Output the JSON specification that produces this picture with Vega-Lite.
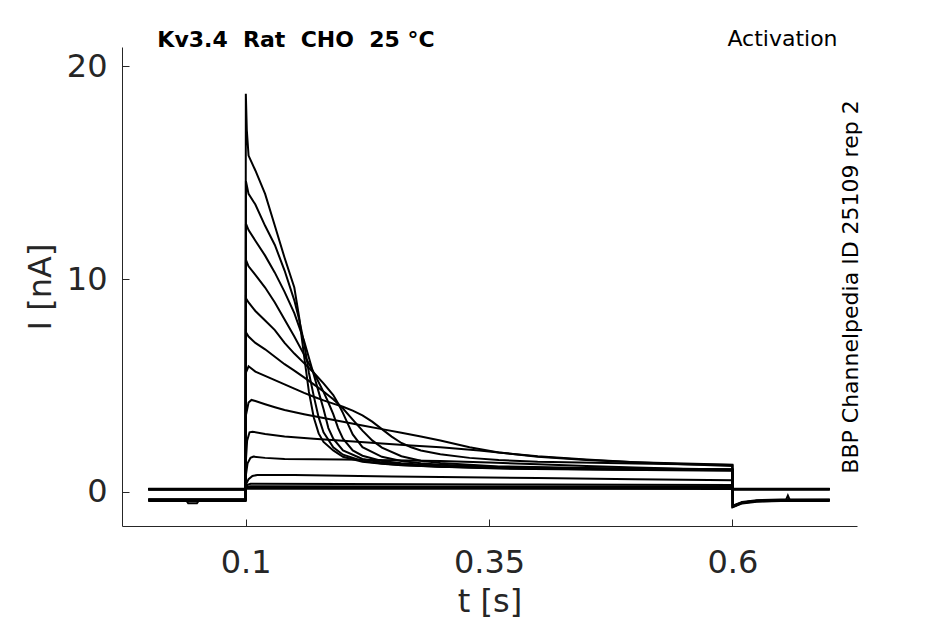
{
  "$schema": "https://vega.github.io/schema/vega-lite/v6.json",
  "description": "Kv3.4 activation current traces",
  "autosize": "none",
  "width": 735,
  "height": 479,
  "padding": {"left": 122, "top": 47, "right": 88, "bottom": 98},
  "config": {
    "font": "DejaVu Sans",
    "view": {"stroke": null},
    "axis": {
      "grid": false,
      "domainColor": "#262626",
      "tickColor": "#262626",
      "labelColor": "#262626",
      "titleColor": "#262626",
      "labelFontSize": 32,
      "titleFontSize": 32,
      "titleFontWeight": "normal",
      "labelFlush": false
    }
  },
  "layer": [
    {
      "data": {
        "values": [
          {"trace": 1, "t": 0, "I": -0.36}, {"trace": 1, "t": 0.0999, "I": -0.36}, {"trace": 1, "t": 0.1002, "I": 18.7}, {"trace": 1, "t": 0.1012, "I": 17.0}, {"trace": 1, "t": 0.103, "I": 15.8}, {"trace": 1, "t": 0.11, "I": 15.1}, {"trace": 1, "t": 0.12, "I": 14.0}, {"trace": 1, "t": 0.13, "I": 12.5}, {"trace": 1, "t": 0.14, "I": 11.0}, {"trace": 1, "t": 0.15, "I": 9.6}, {"trace": 1, "t": 0.155, "I": 8.2}, {"trace": 1, "t": 0.16, "I": 6.4}, {"trace": 1, "t": 0.165, "I": 4.7}, {"trace": 1, "t": 0.17, "I": 3.5}, {"trace": 1, "t": 0.175, "I": 2.75}, {"trace": 1, "t": 0.18, "I": 2.35}, {"trace": 1, "t": 0.19, "I": 1.95}, {"trace": 1, "t": 0.2, "I": 1.65}, {"trace": 1, "t": 0.22, "I": 1.42}, {"trace": 1, "t": 0.24, "I": 1.32}, {"trace": 1, "t": 0.26, "I": 1.25}, {"trace": 1, "t": 0.3, "I": 1.18}, {"trace": 1, "t": 0.36, "I": 1.1}, {"trace": 1, "t": 0.45, "I": 1.05}, {"trace": 1, "t": 0.6, "I": 1.0}, {"trace": 1, "t": 0.6003, "I": -0.69}, {"trace": 1, "t": 0.61, "I": -0.5}, {"trace": 1, "t": 0.625, "I": -0.42}, {"trace": 1, "t": 0.65, "I": -0.39}, {"trace": 1, "t": 0.655, "I": -0.39}, {"trace": 1, "t": 0.657, "I": -0.17}, {"trace": 1, "t": 0.659, "I": -0.39}, {"trace": 1, "t": 0.7, "I": -0.38},

          {"trace": 2, "t": 0, "I": -0.4}, {"trace": 2, "t": 0.039, "I": -0.4}, {"trace": 2, "t": 0.041, "I": -0.53}, {"trace": 2, "t": 0.05, "I": -0.53}, {"trace": 2, "t": 0.052, "I": -0.4}, {"trace": 2, "t": 0.0999, "I": -0.4}, {"trace": 2, "t": 0.1003, "I": 14.6}, {"trace": 2, "t": 0.103, "I": 14.0}, {"trace": 2, "t": 0.11, "I": 13.5}, {"trace": 2, "t": 0.12, "I": 12.5}, {"trace": 2, "t": 0.13, "I": 11.6}, {"trace": 2, "t": 0.14, "I": 10.4}, {"trace": 2, "t": 0.15, "I": 9.0}, {"trace": 2, "t": 0.155, "I": 8.1}, {"trace": 2, "t": 0.16, "I": 7.0}, {"trace": 2, "t": 0.165, "I": 5.6}, {"trace": 2, "t": 0.17, "I": 4.5}, {"trace": 2, "t": 0.175, "I": 3.5}, {"trace": 2, "t": 0.18, "I": 2.8}, {"trace": 2, "t": 0.19, "I": 2.1}, {"trace": 2, "t": 0.2, "I": 1.75}, {"trace": 2, "t": 0.22, "I": 1.45}, {"trace": 2, "t": 0.24, "I": 1.33}, {"trace": 2, "t": 0.26, "I": 1.26}, {"trace": 2, "t": 0.3, "I": 1.18}, {"trace": 2, "t": 0.36, "I": 1.12}, {"trace": 2, "t": 0.45, "I": 1.07}, {"trace": 2, "t": 0.6, "I": 1.02}, {"trace": 2, "t": 0.6003, "I": -0.7}, {"trace": 2, "t": 0.61, "I": -0.52}, {"trace": 2, "t": 0.625, "I": -0.44}, {"trace": 2, "t": 0.65, "I": -0.41}, {"trace": 2, "t": 0.7, "I": -0.4},

          {"trace": 3, "t": 0, "I": -0.38}, {"trace": 3, "t": 0.0999, "I": -0.38}, {"trace": 3, "t": 0.1003, "I": 12.6}, {"trace": 3, "t": 0.103, "I": 12.3}, {"trace": 3, "t": 0.11, "I": 11.8}, {"trace": 3, "t": 0.12, "I": 11.1}, {"trace": 3, "t": 0.13, "I": 10.3}, {"trace": 3, "t": 0.14, "I": 9.4}, {"trace": 3, "t": 0.15, "I": 8.4}, {"trace": 3, "t": 0.16, "I": 7.1}, {"trace": 3, "t": 0.165, "I": 6.3}, {"trace": 3, "t": 0.17, "I": 5.5}, {"trace": 3, "t": 0.175, "I": 4.7}, {"trace": 3, "t": 0.18, "I": 3.9}, {"trace": 3, "t": 0.185, "I": 3.0}, {"trace": 3, "t": 0.19, "I": 2.5}, {"trace": 3, "t": 0.2, "I": 1.95}, {"trace": 3, "t": 0.22, "I": 1.55}, {"trace": 3, "t": 0.24, "I": 1.38}, {"trace": 3, "t": 0.26, "I": 1.3}, {"trace": 3, "t": 0.3, "I": 1.2}, {"trace": 3, "t": 0.36, "I": 1.13}, {"trace": 3, "t": 0.45, "I": 1.08}, {"trace": 3, "t": 0.6, "I": 1.03}, {"trace": 3, "t": 0.6003, "I": -0.66}, {"trace": 3, "t": 0.61, "I": -0.49}, {"trace": 3, "t": 0.625, "I": -0.41}, {"trace": 3, "t": 0.65, "I": -0.39}, {"trace": 3, "t": 0.7, "I": -0.38},

          {"trace": 4, "t": 0, "I": -0.34}, {"trace": 4, "t": 0.0999, "I": -0.34}, {"trace": 4, "t": 0.1003, "I": 10.9}, {"trace": 4, "t": 0.103, "I": 10.6}, {"trace": 4, "t": 0.11, "I": 10.2}, {"trace": 4, "t": 0.12, "I": 9.6}, {"trace": 4, "t": 0.13, "I": 8.9}, {"trace": 4, "t": 0.14, "I": 8.1}, {"trace": 4, "t": 0.15, "I": 7.3}, {"trace": 4, "t": 0.16, "I": 6.45}, {"trace": 4, "t": 0.17, "I": 5.6}, {"trace": 4, "t": 0.175, "I": 5.15}, {"trace": 4, "t": 0.18, "I": 4.7}, {"trace": 4, "t": 0.185, "I": 4.2}, {"trace": 4, "t": 0.19, "I": 3.65}, {"trace": 4, "t": 0.195, "I": 3.0}, {"trace": 4, "t": 0.2, "I": 2.5}, {"trace": 4, "t": 0.21, "I": 1.95}, {"trace": 4, "t": 0.22, "I": 1.7}, {"trace": 4, "t": 0.24, "I": 1.45}, {"trace": 4, "t": 0.26, "I": 1.35}, {"trace": 4, "t": 0.3, "I": 1.22}, {"trace": 4, "t": 0.36, "I": 1.14}, {"trace": 4, "t": 0.45, "I": 1.08}, {"trace": 4, "t": 0.6, "I": 1.04}, {"trace": 4, "t": 0.6003, "I": -0.64}, {"trace": 4, "t": 0.61, "I": -0.47}, {"trace": 4, "t": 0.625, "I": -0.39}, {"trace": 4, "t": 0.65, "I": -0.36}, {"trace": 4, "t": 0.7, "I": -0.35},

          {"trace": 5, "t": 0, "I": -0.42}, {"trace": 5, "t": 0.0999, "I": -0.42}, {"trace": 5, "t": 0.1003, "I": 9.1}, {"trace": 5, "t": 0.103, "I": 8.9}, {"trace": 5, "t": 0.11, "I": 8.5}, {"trace": 5, "t": 0.12, "I": 8.05}, {"trace": 5, "t": 0.13, "I": 7.6}, {"trace": 5, "t": 0.14, "I": 7.0}, {"trace": 5, "t": 0.15, "I": 6.5}, {"trace": 5, "t": 0.16, "I": 6.05}, {"trace": 5, "t": 0.17, "I": 5.6}, {"trace": 5, "t": 0.18, "I": 5.1}, {"trace": 5, "t": 0.19, "I": 4.55}, {"trace": 5, "t": 0.195, "I": 4.15}, {"trace": 5, "t": 0.2, "I": 3.7}, {"trace": 5, "t": 0.205, "I": 3.2}, {"trace": 5, "t": 0.21, "I": 2.7}, {"trace": 5, "t": 0.22, "I": 2.1}, {"trace": 5, "t": 0.24, "I": 1.65}, {"trace": 5, "t": 0.26, "I": 1.45}, {"trace": 5, "t": 0.28, "I": 1.35}, {"trace": 5, "t": 0.3, "I": 1.28}, {"trace": 5, "t": 0.36, "I": 1.17}, {"trace": 5, "t": 0.45, "I": 1.1}, {"trace": 5, "t": 0.6, "I": 1.05}, {"trace": 5, "t": 0.6003, "I": -0.72}, {"trace": 5, "t": 0.61, "I": -0.54}, {"trace": 5, "t": 0.625, "I": -0.46}, {"trace": 5, "t": 0.65, "I": -0.43}, {"trace": 5, "t": 0.7, "I": -0.42},

          {"trace": 6, "t": 0, "I": -0.37}, {"trace": 6, "t": 0.0999, "I": -0.37}, {"trace": 6, "t": 0.1003, "I": 7.5}, {"trace": 6, "t": 0.103, "I": 7.3}, {"trace": 6, "t": 0.11, "I": 7.0}, {"trace": 6, "t": 0.12, "I": 6.7}, {"trace": 6, "t": 0.13, "I": 6.35}, {"trace": 6, "t": 0.14, "I": 6.0}, {"trace": 6, "t": 0.15, "I": 5.7}, {"trace": 6, "t": 0.16, "I": 5.38}, {"trace": 6, "t": 0.17, "I": 5.05}, {"trace": 6, "t": 0.18, "I": 4.72}, {"trace": 6, "t": 0.19, "I": 4.35}, {"trace": 6, "t": 0.2, "I": 3.92}, {"trace": 6, "t": 0.21, "I": 3.4}, {"trace": 6, "t": 0.22, "I": 2.88}, {"trace": 6, "t": 0.23, "I": 2.42}, {"trace": 6, "t": 0.24, "I": 2.08}, {"trace": 6, "t": 0.26, "I": 1.68}, {"trace": 6, "t": 0.28, "I": 1.47}, {"trace": 6, "t": 0.3, "I": 1.36}, {"trace": 6, "t": 0.36, "I": 1.2}, {"trace": 6, "t": 0.45, "I": 1.12}, {"trace": 6, "t": 0.6, "I": 1.06}, {"trace": 6, "t": 0.6003, "I": -0.68}, {"trace": 6, "t": 0.61, "I": -0.5}, {"trace": 6, "t": 0.625, "I": -0.41}, {"trace": 6, "t": 0.65, "I": -0.38}, {"trace": 6, "t": 0.7, "I": -0.37},

          {"trace": 7, "t": 0, "I": 0.13}, {"trace": 7, "t": 0.0999, "I": 0.13}, {"trace": 7, "t": 0.1003, "I": 5.6}, {"trace": 7, "t": 0.103, "I": 5.9}, {"trace": 7, "t": 0.11, "I": 5.65}, {"trace": 7, "t": 0.12, "I": 5.45}, {"trace": 7, "t": 0.13, "I": 5.25}, {"trace": 7, "t": 0.14, "I": 5.05}, {"trace": 7, "t": 0.15, "I": 4.85}, {"trace": 7, "t": 0.16, "I": 4.65}, {"trace": 7, "t": 0.17, "I": 4.47}, {"trace": 7, "t": 0.18, "I": 4.3}, {"trace": 7, "t": 0.19, "I": 4.15}, {"trace": 7, "t": 0.2, "I": 4.0}, {"trace": 7, "t": 0.21, "I": 3.82}, {"trace": 7, "t": 0.22, "I": 3.6}, {"trace": 7, "t": 0.23, "I": 3.3}, {"trace": 7, "t": 0.24, "I": 2.95}, {"trace": 7, "t": 0.25, "I": 2.6}, {"trace": 7, "t": 0.26, "I": 2.3}, {"trace": 7, "t": 0.27, "I": 2.1}, {"trace": 7, "t": 0.28, "I": 1.95}, {"trace": 7, "t": 0.3, "I": 1.77}, {"trace": 7, "t": 0.33, "I": 1.6}, {"trace": 7, "t": 0.36, "I": 1.5}, {"trace": 7, "t": 0.4, "I": 1.42}, {"trace": 7, "t": 0.5, "I": 1.33}, {"trace": 7, "t": 0.6, "I": 1.27}, {"trace": 7, "t": 0.6003, "I": 0.14}, {"trace": 7, "t": 0.7, "I": 0.14},

          {"trace": 8, "t": 0, "I": 0.13}, {"trace": 8, "t": 0.0999, "I": 0.13}, {"trace": 8, "t": 0.1003, "I": 3.6}, {"trace": 8, "t": 0.103, "I": 4.2}, {"trace": 8, "t": 0.106, "I": 4.32}, {"trace": 8, "t": 0.11, "I": 4.27}, {"trace": 8, "t": 0.12, "I": 4.12}, {"trace": 8, "t": 0.13, "I": 3.98}, {"trace": 8, "t": 0.14, "I": 3.85}, {"trace": 8, "t": 0.16, "I": 3.65}, {"trace": 8, "t": 0.18, "I": 3.47}, {"trace": 8, "t": 0.2, "I": 3.3}, {"trace": 8, "t": 0.22, "I": 3.12}, {"trace": 8, "t": 0.24, "I": 2.95}, {"trace": 8, "t": 0.26, "I": 2.78}, {"trace": 8, "t": 0.28, "I": 2.6}, {"trace": 8, "t": 0.3, "I": 2.42}, {"trace": 8, "t": 0.33, "I": 2.1}, {"trace": 8, "t": 0.36, "I": 1.85}, {"trace": 8, "t": 0.4, "I": 1.65}, {"trace": 8, "t": 0.45, "I": 1.5}, {"trace": 8, "t": 0.5, "I": 1.4}, {"trace": 8, "t": 0.55, "I": 1.33}, {"trace": 8, "t": 0.6, "I": 1.28}, {"trace": 8, "t": 0.6003, "I": 0.14}, {"trace": 8, "t": 0.7, "I": 0.14},

          {"trace": 9, "t": 0, "I": 0.12}, {"trace": 9, "t": 0.0999, "I": 0.12}, {"trace": 9, "t": 0.1003, "I": 1.5}, {"trace": 9, "t": 0.1015, "I": 2.4}, {"trace": 9, "t": 0.104, "I": 2.8}, {"trace": 9, "t": 0.107, "I": 2.83}, {"trace": 9, "t": 0.12, "I": 2.72}, {"trace": 9, "t": 0.14, "I": 2.6}, {"trace": 9, "t": 0.17, "I": 2.5}, {"trace": 9, "t": 0.2, "I": 2.4}, {"trace": 9, "t": 0.24, "I": 2.27}, {"trace": 9, "t": 0.27, "I": 2.18}, {"trace": 9, "t": 0.3, "I": 2.1}, {"trace": 9, "t": 0.34, "I": 1.95}, {"trace": 9, "t": 0.36, "I": 1.85}, {"trace": 9, "t": 0.4, "I": 1.68}, {"trace": 9, "t": 0.45, "I": 1.52}, {"trace": 9, "t": 0.5, "I": 1.4}, {"trace": 9, "t": 0.55, "I": 1.3}, {"trace": 9, "t": 0.6, "I": 1.22}, {"trace": 9, "t": 0.6003, "I": 0.13}, {"trace": 9, "t": 0.7, "I": 0.13},

          {"trace": 10, "t": 0, "I": 0.14}, {"trace": 10, "t": 0.0999, "I": 0.14}, {"trace": 10, "t": 0.1003, "I": 0.8}, {"trace": 10, "t": 0.102, "I": 1.35}, {"trace": 10, "t": 0.105, "I": 1.6}, {"trace": 10, "t": 0.108, "I": 1.66}, {"trace": 10, "t": 0.12, "I": 1.6}, {"trace": 10, "t": 0.14, "I": 1.55}, {"trace": 10, "t": 0.2, "I": 1.52}, {"trace": 10, "t": 0.25, "I": 1.49}, {"trace": 10, "t": 0.3, "I": 1.45}, {"trace": 10, "t": 0.35, "I": 1.38}, {"trace": 10, "t": 0.4, "I": 1.3}, {"trace": 10, "t": 0.45, "I": 1.22}, {"trace": 10, "t": 0.5, "I": 1.15}, {"trace": 10, "t": 0.55, "I": 1.09}, {"trace": 10, "t": 0.6, "I": 1.05}, {"trace": 10, "t": 0.6003, "I": 0.14}, {"trace": 10, "t": 0.7, "I": 0.14},

          {"trace": 11, "t": 0, "I": 0.13}, {"trace": 11, "t": 0.0999, "I": 0.13}, {"trace": 11, "t": 0.1003, "I": 0.35}, {"trace": 11, "t": 0.103, "I": 0.6}, {"trace": 11, "t": 0.107, "I": 0.75}, {"trace": 11, "t": 0.112, "I": 0.8}, {"trace": 11, "t": 0.15, "I": 0.79}, {"trace": 11, "t": 0.2, "I": 0.76}, {"trace": 11, "t": 0.25, "I": 0.73}, {"trace": 11, "t": 0.3, "I": 0.7}, {"trace": 11, "t": 0.4, "I": 0.65}, {"trace": 11, "t": 0.5, "I": 0.6}, {"trace": 11, "t": 0.6, "I": 0.55}, {"trace": 11, "t": 0.6003, "I": 0.13}, {"trace": 11, "t": 0.7, "I": 0.13},

          {"trace": 12, "t": 0, "I": 0.14}, {"trace": 12, "t": 0.0999, "I": 0.14}, {"trace": 12, "t": 0.1003, "I": 0.3}, {"trace": 12, "t": 0.105, "I": 0.38}, {"trace": 12, "t": 0.2, "I": 0.37}, {"trace": 12, "t": 0.4, "I": 0.35}, {"trace": 12, "t": 0.6, "I": 0.33}, {"trace": 12, "t": 0.6003, "I": 0.14}, {"trace": 12, "t": 0.7, "I": 0.14},

          {"trace": 13, "t": 0, "I": 0.12}, {"trace": 13, "t": 0.0999, "I": 0.12}, {"trace": 13, "t": 0.1003, "I": 0.22}, {"trace": 13, "t": 0.105, "I": 0.27}, {"trace": 13, "t": 0.3, "I": 0.26}, {"trace": 13, "t": 0.6, "I": 0.25}, {"trace": 13, "t": 0.6003, "I": 0.12}, {"trace": 13, "t": 0.7, "I": 0.12},

          {"trace": 14, "t": 0, "I": 0.15}, {"trace": 14, "t": 0.0999, "I": 0.15}, {"trace": 14, "t": 0.1003, "I": 0.19}, {"trace": 14, "t": 0.6, "I": 0.19}, {"trace": 14, "t": 0.6003, "I": 0.15}, {"trace": 14, "t": 0.7, "I": 0.15},

          {"trace": 15, "t": 0, "I": 0.13}, {"trace": 15, "t": 0.0999, "I": 0.13}, {"trace": 15, "t": 0.1003, "I": 0.15}, {"trace": 15, "t": 0.6, "I": 0.14}, {"trace": 15, "t": 0.6003, "I": 0.13}, {"trace": 15, "t": 0.7, "I": 0.13}
        ]
      },
      "mark": {"type": "line", "color": "black", "strokeWidth": 2, "clip": true},
      "encoding": {
        "x": {
          "field": "t",
          "type": "quantitative",
          "scale": {"domain": [-0.027, 0.728], "nice": false, "zero": false},
          "axis": {
            "orient": "bottom",
            "values": [0.1, 0.35, 0.6],
            "format": ".2~f",
            "title": "t [s]",
            "tickSize": -7,
            "labelPadding": 28,
            "titlePadding": 8
          }
        },
        "y": {
          "field": "I",
          "type": "quantitative",
          "scale": {"domain": [-1.6, 20.9], "nice": false, "zero": false},
          "axis": {
            "orient": "left",
            "values": [0, 10, 20],
            "title": "I [nA]",
            "tickSize": -7,
            "labelPadding": 22,
            "titlePadding": 9
          }
        },
        "detail": {"field": "trace", "type": "nominal"}
      }
    },
    {
      "data": {"values": [{"label": "Activation"}]},
      "mark": {"type": "text", "align": "right", "baseline": "alphabetic", "fontSize": 22, "color": "black"},
      "encoding": {
        "text": {"field": "label", "type": "nominal"},
        "x": {"datum": 0.708, "type": "quantitative", "axis": null},
        "y": {
          "datum": 20.95,
          "type": "quantitative",
          "axis": {
            "orient": "right",
            "title": "BBP Channelpedia ID 25109 rep 2",
            "labels": false,
            "ticks": false,
            "domain": false,
            "titleAngle": 270,
            "titleBaseline": "alphabetic",
            "titlePadding": 0,
            "titleFontSize": 22,
            "titleColor": "black"
          }
        }
      }
    },
    {
      "data": {"values": [{"label": "Kv3.4 \u00a0Rat \u00a0CHO \u00a025 °C"}]},
      "mark": {"type": "text", "align": "left", "baseline": "alphabetic", "fontSize": 22, "fontWeight": "bold", "color": "black"},
      "encoding": {
        "text": {"field": "label", "type": "nominal"},
        "x": {"datum": 0.0093, "type": "quantitative", "axis": null},
        "y": {"datum": 20.89, "type": "quantitative", "axis": null}
      }
    }
  ],
  "resolve": {"axis": {"x": "independent", "y": "independent"}}
}
